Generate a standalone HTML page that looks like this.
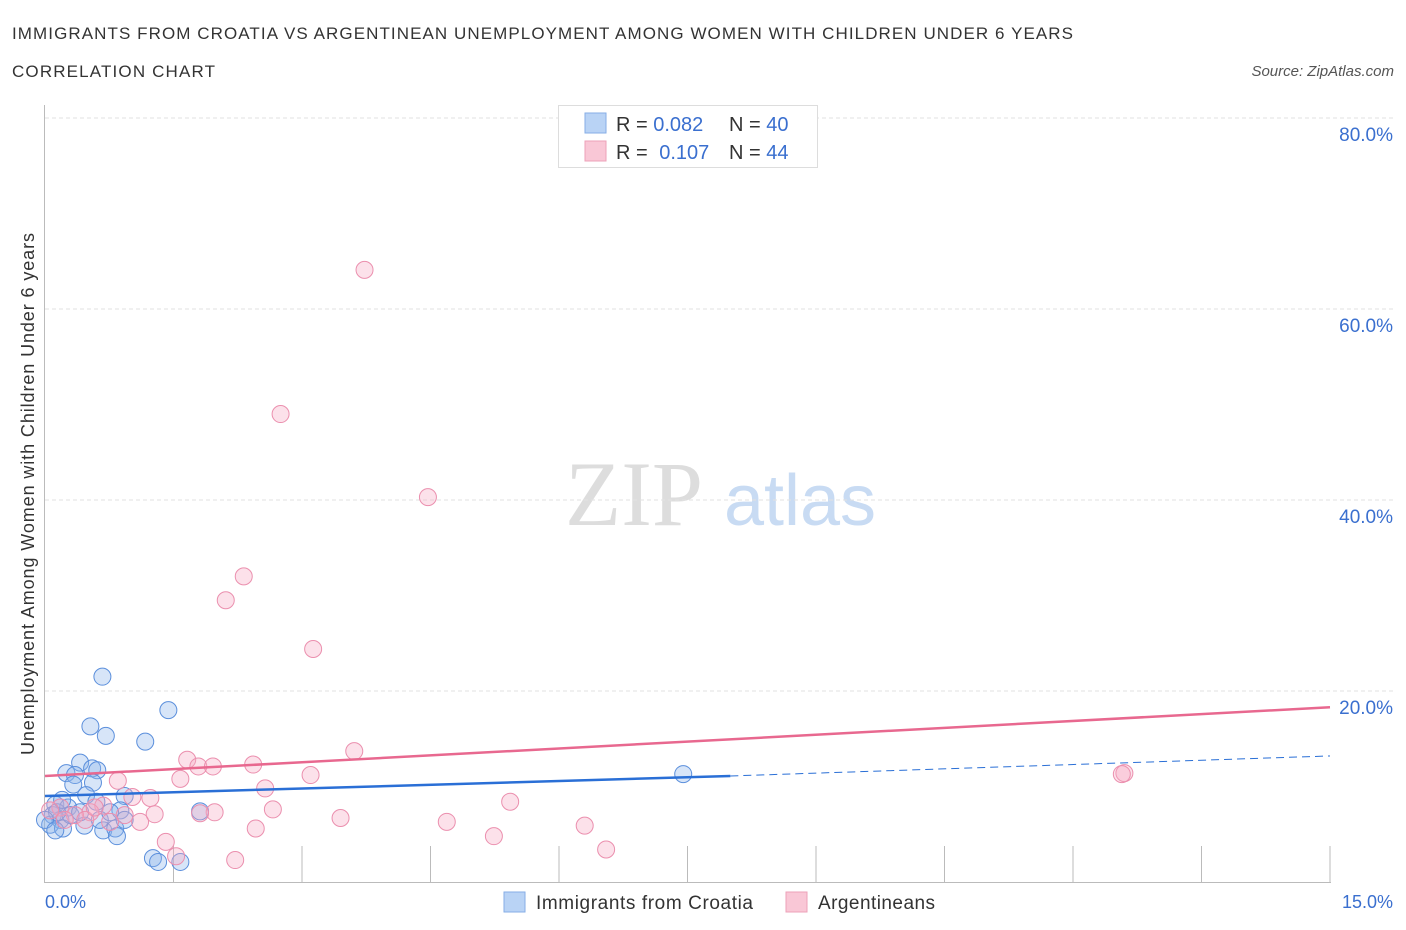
<!DOCTYPE html>
<html><head><meta charset="utf-8"><style>
body{margin:0;background:#fff;font-family:"Liberation Sans",sans-serif;}
svg{display:block}
</style></head><body>
<svg id="chart" width="1406" height="930">
<text x="12" y="39" font-size="17" fill="#333" textLength="1061">IMMIGRANTS FROM CROATIA VS ARGENTINEAN UNEMPLOYMENT AMONG WOMEN WITH CHILDREN UNDER 6 YEARS</text>
<text x="12" y="77" font-size="17" fill="#333" textLength="203">CORRELATION CHART</text>
<text x="1394" y="76" font-size="15" fill="#555" font-style="italic" text-anchor="end">Source: ZipAtlas.com</text>
<g>
<text x="634" y="525" font-size="92" fill="#ddd" font-family="Liberation Serif,serif" text-anchor="middle">ZIP</text>
<text x="800" y="525" font-size="72" fill="#c8dbf3" text-anchor="middle">atlas</text>
</g>
<g id="grid"></g>
<g id="axes"></g>
<g id="marks"></g>
<text transform="translate(34,494) rotate(-90)" font-size="18" fill="#333" text-anchor="middle" textLength="522">Unemployment Among Women with Children Under 6 years</text>
<text x="45" y="908" font-size="18" fill="#3a6fcf">0.0%</text>
<text x="1393" y="908" font-size="18" fill="#3a6fcf" text-anchor="end">15.0%</text>
<g>
<rect x="558.5" y="105.5" width="259" height="62" fill="#fff" stroke="#ddd"/>
<rect x="585" y="113" width="21" height="20" fill="#b9d3f5" stroke="#86aee6"/>
<rect x="585" y="141" width="21" height="20" fill="#f9c7d6" stroke="#eda2b8"/>
<text x="616" y="131" font-size="20" fill="#333">R = <tspan fill="#3a6fcf">0.082</tspan></text>
<text x="729" y="131" font-size="20" fill="#333">N = <tspan fill="#3a6fcf">40</tspan></text>
<text x="616" y="159" font-size="20" fill="#333">R = <tspan fill="#3a6fcf" dx="6">0.107</tspan></text>
<text x="729" y="159" font-size="20" fill="#333">N = <tspan fill="#3a6fcf">44</tspan></text>
</g>
<g>
<rect x="504" y="892" width="21" height="20" fill="#b9d3f5" stroke="#86aee6"/>
<text x="536" y="909" font-size="19" fill="#333" textLength="217">Immigrants from Croatia</text>
<rect x="786" y="892" width="21" height="20" fill="#f9c7d6" stroke="#eda2b8"/>
<text x="818" y="909" font-size="19" fill="#333" textLength="117">Argentineans</text>
</g>
</svg>
<script>
const yTicks=[20,40,60,80];
const yTickLabels=["20.0%","40.0%","60.0%","80.0%"];
const xTicks=[1.5,3,4.5,6,7.5,9,10.5,12,13.5,15];
const croatiaX=[0.67,1.44,0.53,0.71,1.17,0.41,0.25,0.35,0.55,0.61,0.33,0.56,0.48,0.93,0.12,0.27,0.09,0.18,0.06,0.21,0.46,0.68,0.82,0.84,0.88,0.64,1.81,1.26,1.32,1.58,7.45,0.3,0.41,0.14,0,0.12,0.2,0.6,0.93,0.76];
const croatiaY=[21.5,18.0,16.3,15.3,14.7,12.5,11.4,11.2,11.9,11.7,10.2,10.4,9.1,9.0,8.1,7.8,7.0,6.5,6.0,5.6,5.9,5.4,5.6,4.8,7.5,6.5,7.4,2.5,2.1,2.1,11.3,7.0,7.3,7.3,6.5,5.4,8.6,8.4,6.5,7.3];
const argX=[3.73,2.75,4.47,2.32,2.11,3.13,3.61,1.66,1.79,1.96,2.43,1.58,3.1,0.85,2.57,1.23,5.43,1.02,2.66,1.98,1.81,1.28,0.68,3.45,4.69,2.46,6.3,5.24,1.41,1.53,2.22,6.55,12.6,12.57,1.11,0.93,0.53,0.35,0.18,0.06,0.47,0.76,0.23,0.58];
const argY=[64.1,49.0,40.3,32.0,29.5,24.4,13.7,12.8,12.1,12.1,12.3,10.8,11.2,10.6,9.8,8.8,8.4,8.9,7.6,7.3,7.2,7.1,8.0,6.7,6.3,5.6,5.9,4.8,4.2,2.7,2.3,3.4,11.4,11.3,6.3,7.0,7.3,7.0,7.8,7.5,6.5,6.3,6.5,7.8];
const croatiaTrend=[9.0,11.1,13.2]; // at x=0, 8.0, 15
const argTrend=[11.1,18.3]; // at x=0, 15
const NS="http://www.w3.org/2000/svg";
const X=v=>45+v/15*1285, Y=v=>882-v*9.55;
function mk(t,a,p){const e=document.createElementNS(NS,t);for(const k in a)e.setAttribute(k,a[k]);p.appendChild(e);return e;}
const grid=document.getElementById('grid'),axes=document.getElementById('axes'),marks=document.getElementById('marks');
yTicks.forEach((t,i)=>{
 const l=mk('line',{x1:45,x2:1395,y1:Y(t),y2:Y(t),stroke:'#e2e2e2','stroke-dasharray':'4,3'},grid);
 
 
 const tx=mk('text',{x:1393,y:Y(t)+23,'font-size':19,fill:'#3a6fcf','text-anchor':'end'},grid);
 tx.textContent=yTickLabels[i];
 
 
});
const ya=mk('line',{x1:44.5,x2:44.5,y1:105,y2:883,stroke:'#bbb'},axes);


const xa=mk('line',{x1:44,x2:1331,y1:882.5,y2:882.5,stroke:'#bbb'},axes);


xTicks.forEach(t=>{
 const l=mk('line',{x1:X(t),x2:X(t),y1:846,y2:882,stroke:'#bbb'},axes);
 
 
});
croatiaX.forEach((x,i)=>{
 const c=mk('circle',{cx:X(x),cy:Y(croatiaY[i]),r:8.5,fill:'rgba(140,180,235,0.35)',stroke:'#5b8fdc','stroke-width':1},marks);
 
 
});
argX.forEach((x,i)=>{
 const c=mk('circle',{cx:X(x),cy:Y(argY[i]),r:8.5,fill:'rgba(245,170,195,0.35)',stroke:'#eb8fae','stroke-width':1},marks);
 
 
});
const l1=mk('line',{x1:X(0),y1:Y(argTrend[0]),x2:X(15),y2:Y(argTrend[1]),stroke:'#e8688f','stroke-width':2.5},marks);


const l2=mk('line',{x1:X(0),y1:Y(croatiaTrend[0]),x2:X(8),y2:Y(croatiaTrend[1]),stroke:'#2a6fd6','stroke-width':2.5},marks);


const l3=mk('line',{x1:X(8),y1:Y(croatiaTrend[1]),x2:X(15),y2:Y(croatiaTrend[2]),stroke:'#2a6fd6','stroke-width':1,'stroke-dasharray':'8,5'},marks);


</script>
</body></html>
